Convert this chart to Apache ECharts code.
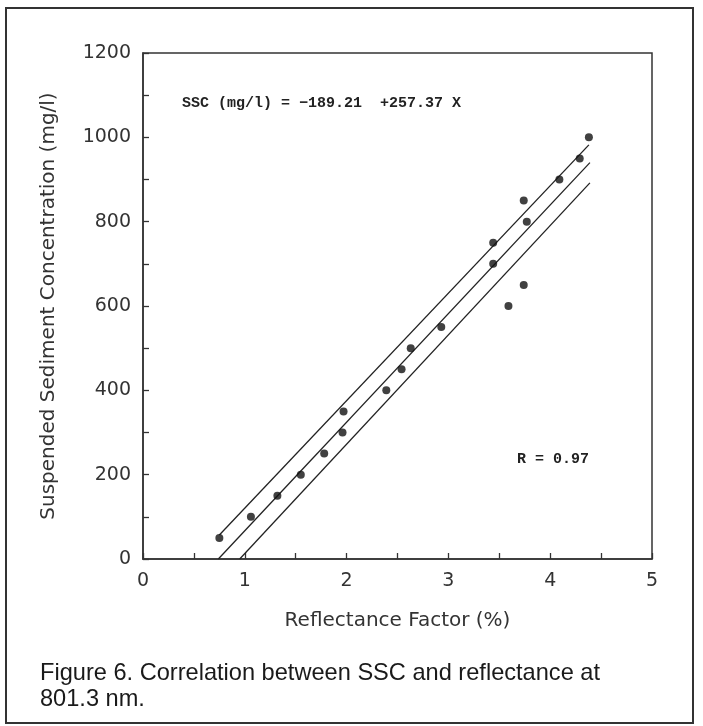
<!DOCTYPE html>
<html>
<head>
<meta charset="utf-8">
<script src="https://cdn.jsdelivr.net/npm/echarts@6/dist/echarts.min.js"></script>
<style>
  html, body { margin: 0; padding: 0; background: #fff; }
  #chart { width: 703px; height: 726px; }
</style>
</head>
<body>
<div id="chart"></div>
<script>
// measured points: reflectance factor (%) vs SSC (mg/l)
const reflectance = [0.75, 1.06, 1.32, 1.55, 1.78, 1.96, 1.97, 2.39, 2.54, 2.63,
  2.93, 3.44, 3.44, 3.59, 3.74, 3.74, 3.77, 4.09, 4.29, 4.38]
const ssc = [50, 100, 150, 200, 250, 300, 350, 400, 450, 500,
  550, 700, 750, 600, 650, 850, 800, 900, 950, 1000]

// regression line and the two band lines, read at their ends
const fitX = [0.74, 4.39]
const fitY = [0, 940]
const upperX = [0.75, 4.38]
const upperY = [57, 982]
const lowerX = [0.95, 4.39]
const lowerY = [0, 892]

const equationText = 'SSC (mg/l) = \u2212189.21  +257.37 X'
const rText = 'R = 0.97'
const captionText = 'Figure 6. Correlation between SSC and reflectance at\n801.3 nm.'

const zip = (xs, ys) => xs.map((x, i) => [x, ys[i]])

const axisColor = '#333'
const tickFont = { fontFamily: 'DejaVu Sans', fontSize: 19, color: '#333' }
const nameFont = { fontFamily: 'DejaVu Sans', fontSize: 20, color: '#333' }

const lineSeries = (name, xs, ys) => ({
  name: name,
  type: 'line',
  data: zip(xs, ys),
  symbol: 'none',
  silent: true,
  lineStyle: { color: '#222', width: 1.3 },
  z: 2
})

const chart = echarts.init(document.getElementById('chart'))
chart.setOption({
  backgroundColor: '#fff',
  animation: false,
  grid: {
    left: 143, right: 51, top: 53, bottom: 167,
    show: true, borderColor: axisColor, borderWidth: 1.5, backgroundColor: 'transparent'
  },
  xAxis: {
    type: 'value',
    min: 0, max: 5, interval: 1,
    name: 'Reflectance Factor (%)',
    nameLocation: 'middle',
    nameGap: 52,
    nameTextStyle: nameFont,
    axisLine: { show: true, lineStyle: { color: axisColor, width: 1.5 } },
    axisTick: { show: true, inside: true, length: 6, lineStyle: { color: axisColor, width: 1.3 } },
    minorTick: { show: true, splitNumber: 2, length: 6, lineStyle: { color: axisColor, width: 1.3 } },
    axisLabel: Object.assign({ margin: 13 }, tickFont),
    splitLine: { show: false }
  },
  yAxis: {
    type: 'value',
    min: 0, max: 1200, interval: 200,
    name: 'Suspended Sediment Concentration (mg/l)',
    nameLocation: 'middle',
    nameGap: 84,
    nameTextStyle: nameFont,
    axisLine: { show: true, lineStyle: { color: axisColor, width: 1.5 } },
    axisTick: { show: true, inside: true, length: 6, lineStyle: { color: axisColor, width: 1.3 } },
    minorTick: { show: true, splitNumber: 2, length: 6, lineStyle: { color: axisColor, width: 1.3 } },
    axisLabel: Object.assign({ margin: 12, formatter: v => String(v) }, tickFont),
    splitLine: { show: false }
  },
  series: [
    lineSeries('upper', upperX, upperY),
    lineSeries('fit', fitX, fitY),
    lineSeries('lower', lowerX, lowerY),
    {
      name: 'SSC',
      type: 'scatter',
      data: zip(reflectance, ssc),
      symbol: 'circle',
      symbolSize: 8,
      itemStyle: { color: '#111' },
      z: 3
    }
  ],
  graphic: [
    {
      type: 'rect',
      shape: { x: 6, y: 8, width: 687, height: 715 },
      style: { fill: 'none', stroke: '#333', lineWidth: 2 },
      silent: true
    },
    {
      type: 'text',
      left: 182, top: 96,
      style: {
        text: equationText,
        font: 'bold 15px "Liberation Mono", monospace',
        fill: '#222'
      }
    },
    {
      type: 'text',
      left: 517, top: 452,
      style: {
        text: rText,
        font: 'bold 15px "Liberation Mono", monospace',
        fill: '#222'
      }
    },
    {
      type: 'text',
      left: 40, top: 660,
      style: {
        text: captionText,
        font: '23.6px "Liberation Sans", Arial, sans-serif',
        lineHeight: 26,
        fill: '#1a1a1a'
      }
    }
  ]
})
</script>
</body>
</html>
